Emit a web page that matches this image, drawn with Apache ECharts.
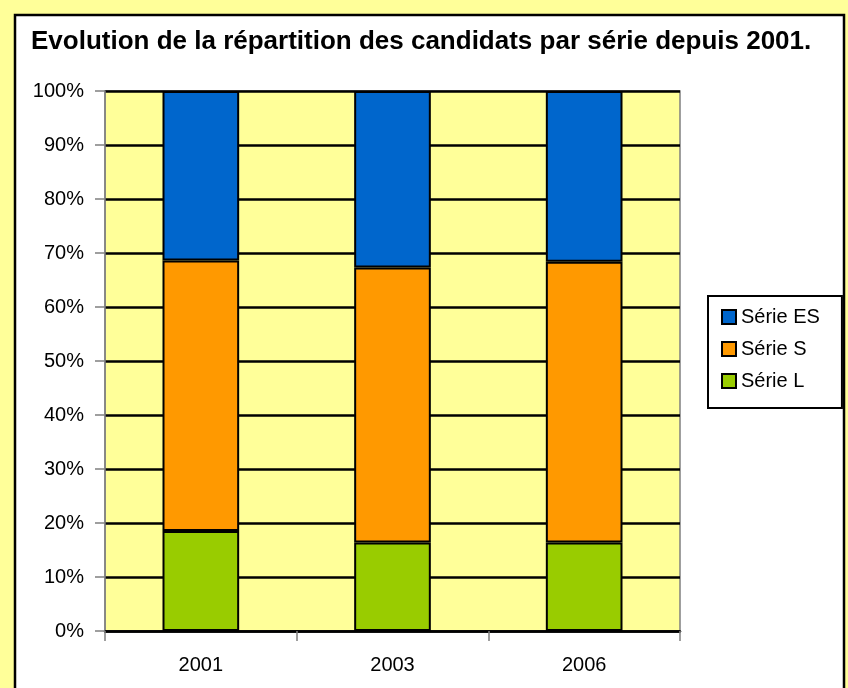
<!DOCTYPE html>
<html>
<head>
<meta charset="utf-8">
<script src="https://cdn.jsdelivr.net/npm/echarts@6/dist/echarts.min.js"></script>
<style>html,body{margin:0;padding:0;background:#ffff99;}#c{width:848px;height:688px;}</style>
</head>
<body>
<div id="c"></div>
<script>
var categories = ['2001', '2003', '2006'];
var serieL = [18.5, 16.4, 16.4];
var serieS = [50.1, 50.9, 52.0];
var serieES = [31.4, 32.7, 31.6];
var yTicks = [0, 10, 20, 30, 40, 50, 60, 70, 80, 90, 100];

var chart = echarts.init(document.getElementById('c'), null, {renderer: 'canvas'});
var font = 'Liberation Sans, Arial, sans-serif';
var barBase = {type: 'bar', stack: 'total', barWidth: '40%'};
chart.setOption({
  backgroundColor: '#ffff99',
  animation: false,
  graphic: [{type: 'rect', z: -10, shape: {x: 15, y: 15, width: 829, height: 720},
    style: {fill: '#ffffff', stroke: '#000', lineWidth: 2.5}}],
  title: {text: 'Evolution de la répartition des candidats par série depuis 2001.',
    left: 31, top: 29, padding: 0,
    textStyle: {fontFamily: font, fontSize: 26, fontWeight: 'bold', color: '#000'}},
  legend: {orient: 'vertical', left: 708, top: 296, padding: [11, 22, 17, 13],
    borderColor: '#000', borderWidth: 2, itemWidth: 14, itemHeight: 14, itemGap: 12,
    icon: 'rect',
    data: ['Série ES', 'Série S', 'Série L'],
    itemStyle: {borderColor: '#000', borderWidth: 2},
    textStyle: {fontFamily: font, fontSize: 20, color: '#000', lineHeight: 20}},
  grid: {left: 105, top: 91, width: 575, height: 540, show: true,
    backgroundColor: '#ffff99', borderColor: '#808080', borderWidth: 1.5},
  xAxis: {type: 'category', data: categories,
    axisLine: {lineStyle: {color: '#000', width: 2.5}},
    axisTick: {show: true, length: 10, alignWithLabel: false, lineStyle: {color: '#808080', width: 1.5}},
    axisLabel: {margin: 24, fontFamily: font, fontSize: 20, color: '#000'}},
  yAxis: {type: 'value', min: yTicks[0], max: yTicks[yTicks.length - 1], interval: 10,
    axisLine: {show: true, lineStyle: {color: '#808080', width: 1.5}},
    axisTick: {show: true, length: 10, lineStyle: {color: '#808080', width: 1.5}},
    splitLine: {show: true, lineStyle: {color: '#000', width: 2.5}},
    axisLabel: {margin: 21, formatter: '{value}%', fontFamily: font, fontSize: 20, color: '#000'}},
  series: [
    Object.assign({}, barBase, {name: 'Série L', data: serieL, itemStyle: {color: '#99cc00', borderColor: '#000', borderWidth: 2}}),
    Object.assign({}, barBase, {name: 'Série S', data: serieS, itemStyle: {color: '#ff9900', borderColor: '#000', borderWidth: 2}}),
    Object.assign({}, barBase, {name: 'Série ES', data: serieES, itemStyle: {color: '#0066cc', borderColor: '#000', borderWidth: 2}})
  ]
});
</script>
</body>
</html>
